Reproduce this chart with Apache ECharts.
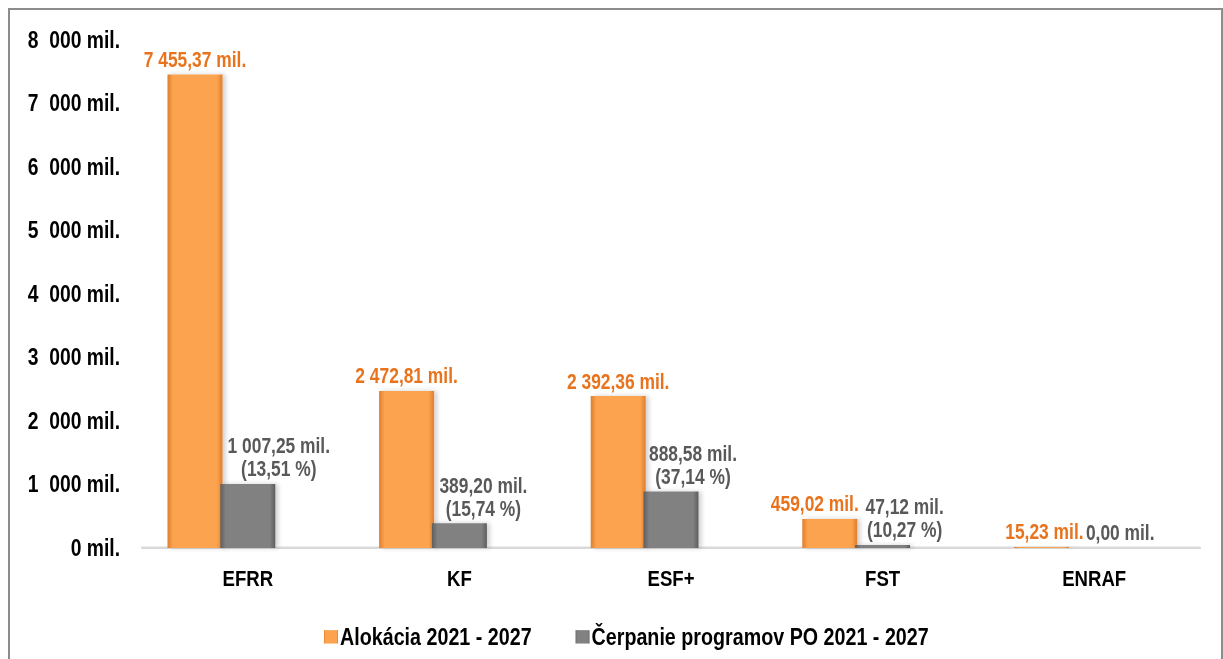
<!DOCTYPE html>
<html>
<head>
<meta charset="utf-8">
<script src="https://cdn.jsdelivr.net/npm/echarts@6/dist/echarts.min.js"></script>
<style>
  html { overflow: hidden; }
  html, body { margin: 0; padding: 0; background: #fff; }
  body { height: 659px; }
  /* graf v pôvodnom obrázku je vertikálne natiahnutý (~1.22x) */
  #chart {
    width: 1223px; height: 540px;
    transform: scaleY(1.22); transform-origin: 0 0;
  }
  .frame {
    position: absolute; left: 8px; top: 8px;
    width: 1211px; height: 670px;
    border: 2px solid #8c8c8c; pointer-events: none;
  }
</style>
</head>
<body>
<div id="chart"></div>
<div class="frame"></div>
<script>
// kategórie (fondy)
const categories = ['EFRR', 'KF', 'ESF+', 'FST', 'ENRAF']
// alokácia 2021 - 2027 (mil.)
const allocation = [7455.37, 2472.81, 2392.36, 459.02, 15.23]
// čerpanie programov PO 2021 - 2027 (mil.)
const drawing = [1007.25, 389.20, 888.58, 47.12, 0.00]
// podiel čerpania (%)
const drawingPct = [13.51, 15.74, 37.14, 10.27, null]
const seriesNames = ['Alokácia 2021 - 2027', 'Čerpanie programov PO 2021 - 2027']
// y os
const yMin = 0
const yMax = 8000
const yStep = 1000

// posun popiskov (px) – ako v pôvodnom grafe
const allocLabelDx = [0, 0, 0, -15, 3]
const drawLabelDx = [31, 24, 22, 22, 26]

const FONT = '"Liberation Sans", Arial, sans-serif'

// 7455.37 -> "7 455,37"
function fmt(v) {
  const parts = v.toFixed(2).split('.')
  const int = parts[0].replace(/\B(?=(\d{3})+(?!\d))/g, ' ')
  return int + ',' + parts[1]
}

function hGrad(edge, mid) {
  return new echarts.graphic.LinearGradient(0, 0, 1, 0, [
    { offset: 0, color: edge },
    { offset: 0.1, color: mid },
    { offset: 0.9, color: mid },
    { offset: 1, color: edge }
  ])
}

const chart = echarts.init(document.getElementById('chart'), null, { renderer: 'svg' })

const option = {
  animation: false,
  grid: {
    left: 142,
    right: 23,
    top: 32.8,
    bottom: 90.8
  },
  legend: {
    data: seriesNames,
    left: 319,
    top: 507,
    icon: 'rect',
    itemWidth: 14,
    itemHeight: 11,
    itemGap: 44,
    textStyle: {
      color: '#000',
      fontWeight: 'bold',
      fontSize: 19.7,
      fontFamily: FONT,
      padding: [0, 0, 0, -3]
    }
  },
  xAxis: {
    type: 'category',
    data: categories,
    axisLine: { lineStyle: { color: '#d9d9d9', width: 2 } },
    axisTick: { show: false },
    axisLabel: {
      color: '#000',
      fontWeight: 'bold',
      fontSize: 18.6,
      fontFamily: FONT,
      margin: 15
    }
  },
  yAxis: {
    type: 'value',
    min: yMin,
    max: yMax,
    interval: yStep,
    splitLine: { show: false },
    axisLine: { show: false },
    axisTick: { show: false },
    axisLabel: {
      color: '#000',
      fontWeight: 'bold',
      fontSize: 19.3,
      fontFamily: FONT,
      margin: 22,
      formatter: v => (v === 0 ? '0 mil.' : (v / 1000) + '  000 mil.')
    }
  },
  series: [
    {
      name: seriesNames[0],
      type: 'bar',
      barWidth: 55,
      barGap: '-4%',
      data: allocation.map((v, i) => ({ value: v, label: { offset: [allocLabelDx[i], 0] } })),
      itemStyle: {
        color: hGrad('#e07d2c', '#fba34f'),
        shadowColor: 'rgba(0,0,0,0.18)',
        shadowBlur: 4,
        shadowOffsetX: 3
      },
      label: {
        show: true,
        position: 'top',
        distance: 4,
        color: '#e8731c',
        fontWeight: 'bold',
        fontSize: 17.4,
        fontFamily: FONT,
        formatter: p => fmt(p.value) + ' mil.'
      }
    },
    {
      name: seriesNames[1],
      type: 'bar',
      barWidth: 55,
      data: drawing.map((v, i) => ({ value: v, label: { offset: [drawLabelDx[i], 0] } })),
      itemStyle: {
        color: hGrad('#5e5e5e', '#818181'),
        shadowColor: 'rgba(0,0,0,0.18)',
        shadowBlur: 4,
        shadowOffsetX: 3
      },
      label: {
        show: true,
        position: 'top',
        distance: 3,
        color: '#595959',
        fontWeight: 'bold',
        fontSize: 17.4,
        fontFamily: FONT,
        lineHeight: 19,
        formatter: p => {
          const pct = drawingPct[p.dataIndex]
          let s = fmt(p.value) + ' mil.'
          if (pct != null) s += '\n(' + pct.toFixed(2).replace('.', ',') + ' %)'
          return s
        }
      }
    },
    {
      // prázdna séria – rezervuje miesto vpravo od stĺpcov
      name: '',
      type: 'bar',
      barWidth: 55,
      data: [],
      silent: true
    }
  ]
}

chart.setOption(option)
</script>
</body>
</html>
